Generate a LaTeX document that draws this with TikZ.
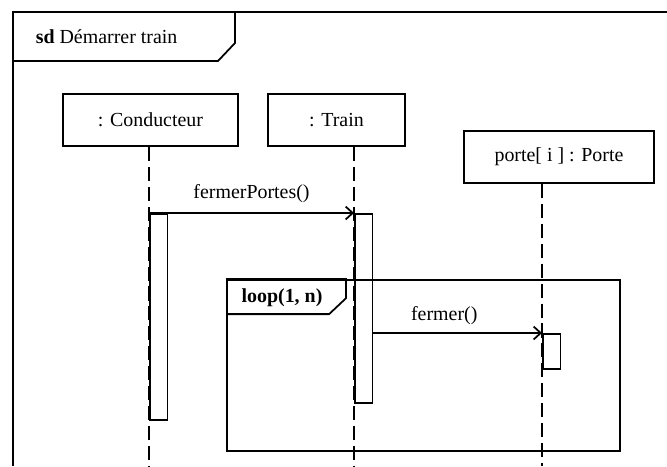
\documentclass[tikz,border=0pt]{standalone}
\usepackage{fontspec}
\setmainfont{Liberation Serif}
\usetikzlibrary{positioning, arrows.meta, calc}

\begin{document}
\begin{tikzpicture}[x=0.03cm, y=-0.03cm, line width=1.5pt,
    font=\fontsize{17pt}{20pt}\selectfont,
    headbox/.style={rectangle, draw, minimum height=1.57cm, inner sep=0pt},
    actbar/.style={rectangle, draw, fill=white, inner sep=0pt, minimum width=0.53cm, anchor=north west},
    lifeline/.style={dash pattern=on 12pt off 5pt},
    msg/.style={-{Straight Barb[length=6pt, width=11pt]}}]
    \useasboundingbox (0,0) rectangle (667,466);

    % sd frame
    \coordinate (sdCorner) at (13,12);
    \draw (667,12) -- (sdCorner) -- (13,466);
    \draw (sdCorner) -| ++(222,31) -- ++(-17,18) -- ++(-205,0);
    \node (sdLabel) [anchor=west] at (31,37) {\textbf{sd} Démarrer train};

    % lifelines
    \node (cond) [headbox, minimum width=5.25cm] at (150.5,120) {: Conducteur};
    \node (train) [headbox, minimum width=4.11cm] at (336.5,120) {: Train};
    \node (porte) [headbox, minimum width=5.7cm] at (559,157) {porte[ i ] : Porte};

    \coordinate (condEnd) at (149,466);
    \coordinate (trainEnd) at (354,466);
    \coordinate (porteEnd) at (542,466);
    \draw[lifeline] (cond.south -| condEnd) -- (condEnd);
    \draw[lifeline] (train.south -| trainEnd) -- (trainEnd);
    \draw[lifeline] (porte.south -| porteEnd) -- (porteEnd);

    \node (condBar) [actbar, minimum height=6.18cm] at (149,213) {};
    \node (trainBar) [actbar, minimum height=5.67cm] at (354,213) {};
    \node (porteBar) [actbar, minimum height=1.05cm] at (542,333) {};

    % loop fragment
    \node (loop) [rectangle, draw, minimum width=11.79cm, minimum height=5.13cm] at (423.5,365.5) {};
    \draw (loop.north west) -| ++(120,19) -- ++(-17,16) -- ++(-103,0);
    \node (loopLabel) at (282,298) {\textbf{loop(1, n)}};

    % messages
    \draw[msg] (condBar.north west) -- (trainBar.north west)
        node (msgPortes) [midway, above=5pt] {fermerPortes()};
    \draw[msg] (trainBar.east |- porteBar.north west) -- (porteBar.north west)
        node (msgFermer) [pos=0.42, above=3pt] {fermer()};
\end{tikzpicture}
\end{document}
